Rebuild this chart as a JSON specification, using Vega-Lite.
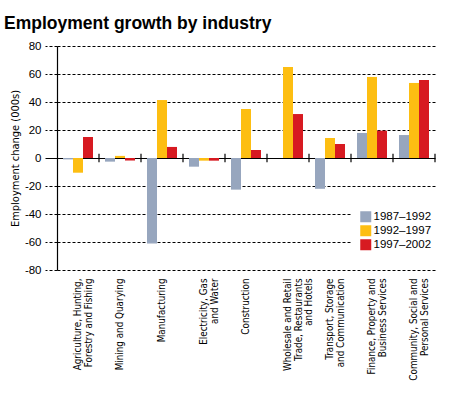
{
  "$schema": "https://vega.github.io/schema/vega-lite/v6.json",
  "width": 378,
  "height": 224,
  "autosize": {"type": "none"},
  "padding": {"left": 57, "top": 46, "right": 17, "bottom": 128},
  "background": "white",
  "title": {
    "text": "Employment growth by industry",
    "anchor": "start",
    "frame": "group",
    "dx": -53,
    "offset": -6,
    "baseline": "alphabetic",
    "font": "Liberation Sans",
    "fontSize": 17.5,
    "fontWeight": "bold",
    "color": "black"
  },
  "config": {
    "view": {"stroke": null}
  },
  "data": {
    "values": [
      {"industry": "Agriculture, Hunting,|Forestry and Fishing", "period": "1987–1992", "change": -1},
      {"industry": "Agriculture, Hunting,|Forestry and Fishing", "period": "1992–1997", "change": -10.5},
      {"industry": "Agriculture, Hunting,|Forestry and Fishing", "period": "1997–2002", "change": 15},
      {"industry": "Mining and Quarying", "period": "1987–1992", "change": -2.6},
      {"industry": "Mining and Quarying", "period": "1992–1997", "change": 1.5},
      {"industry": "Mining and Quarying", "period": "1997–2002", "change": -1.8},
      {"industry": "Manufacturing", "period": "1987–1992", "change": -61},
      {"industry": "Manufacturing", "period": "1992–1997", "change": 41.4},
      {"industry": "Manufacturing", "period": "1997–2002", "change": 7.9},
      {"industry": "Electricity, Gas|and Water", "period": "1987–1992", "change": -6.2},
      {"industry": "Electricity, Gas|and Water", "period": "1992–1997", "change": -1.9},
      {"industry": "Electricity, Gas|and Water", "period": "1997–2002", "change": -1.9},
      {"industry": "Construction", "period": "1987–1992", "change": -22.6},
      {"industry": "Construction", "period": "1992–1997", "change": 35},
      {"industry": "Construction", "period": "1997–2002", "change": 5.7},
      {"industry": "Wholesale and Retail|Trade, Restaurants|and Hotels", "period": "1987–1992", "change": 0},
      {"industry": "Wholesale and Retail|Trade, Restaurants|and Hotels", "period": "1992–1997", "change": 65},
      {"industry": "Wholesale and Retail|Trade, Restaurants|and Hotels", "period": "1997–2002", "change": 31.4},
      {"industry": "Transport, Storage|and Communication", "period": "1987–1992", "change": -22},
      {"industry": "Transport, Storage|and Communication", "period": "1992–1997", "change": 14.3},
      {"industry": "Transport, Storage|and Communication", "period": "1997–2002", "change": 10},
      {"industry": "Finance, Property and|Business Services", "period": "1987–1992", "change": 17.9},
      {"industry": "Finance, Property and|Business Services", "period": "1992–1997", "change": 57.9},
      {"industry": "Finance, Property and|Business Services", "period": "1997–2002", "change": 19.5},
      {"industry": "Community, Social and|Personal Services", "period": "1987–1992", "change": 16.4},
      {"industry": "Community, Social and|Personal Services", "period": "1992–1997", "change": 53.6},
      {"industry": "Community, Social and|Personal Services", "period": "1997–2002", "change": 55.7}
    ]
  },
  "layer": [
    {
      "mark": {"type": "bar"},
      "encoding": {
        "x": {
          "field": "industry",
          "type": "nominal",
          "sort": null,
          "scale": {"paddingInner": 0, "paddingOuter": 0},
          "axis": {
            "orient": "bottom",
            "title": null,
            "domain": false,
            "ticks": false,
            "grid": false,
            "labelAngle": -90,
            "labelAlign": "right",
            "labelBaseline": "middle",
            "labelPadding": 8,
            "labelFont": "DejaVu Sans Condensed",
            "labelFontSize": 9.8,
            "labelLineHeight": 10.5,
            "labelColor": "black",
            "labelOverlap": false,
            "labelBound": false,
            "labelLimit": 0,
            "labelExpr": "split(datum.label, '|')"
          }
        },
        "xOffset": {
          "field": "period",
          "type": "nominal",
          "scale": {"paddingInner": 0, "paddingOuter": 0.6}
        },
        "y": {
          "field": "change",
          "type": "quantitative",
          "scale": {"domain": [-80, 80], "nice": false},
          "axis": {
            "values": [-80, -60, -40, -20, 0, 20, 40, 60, 80],
            "labelOverlap": false,
            "title": "Employment change (000s)",
            "titleFont": "DejaVu Sans Condensed",
            "titleFontSize": 11,
            "titleFontWeight": "normal",
            "titleColor": "black",
            "titlePadding": 4,
            "labelFont": "Liberation Sans",
            "labelFontSize": 11.5,
            "labelColor": "black",
            "labelPadding": 4,
            "labelExpr": "toString(datum.value)",
            "domain": true,
            "domainColor": "black",
            "domainWidth": 1.2,
            "tickSize": 12,
            "tickColor": "black",
            "tickDash": {"condition": {"test": "datum.value === 0", "value": []}, "value": [3, 2]},
            "grid": true,
            "gridColor": "black",
            "gridOpacity": 1,
            "gridDash": {"condition": {"test": "datum.value === 0", "value": []}, "value": [3, 2]}
          }
        },
        "color": {
          "field": "period",
          "type": "nominal",
          "scale": {"range": ["#97a6be", "#fdbe12", "#d71a21"]},
          "legend": {
            "title": null,
            "orient": "none",
            "legendX": 294,
            "legendY": 156,
            "padding": 9,
            "fillColor": "white",
            "symbolType": "square",
            "symbolSize": 121,
            "symbolStrokeWidth": 0,
            "symbolOpacity": 1,
            "labelFont": "Liberation Sans",
            "labelFontSize": 11.5,
            "labelColor": "black",
            "labelOffset": 2,
            "rowPadding": 1
          }
        }
      }
    },
    {
      "transform": [{"filter": "datum.period === '1987–1992'"}],
      "mark": {"type": "rule", "color": "black", "strokeWidth": 1.2},
      "encoding": {
        "x": {"field": "industry", "type": "nominal", "sort": null, "bandPosition": 1},
        "y": {
          "datum": 3,
          "type": "quantitative",
          "scale": {"domain": [-80, 80], "nice": false},
          "axis": {
            "values": [-80, -60, -40, -20, 0, 20, 40, 60, 80],
            "labelOverlap": false,
            "title": "Employment change (000s)"
          }
        },
        "y2": {"datum": -3}
      }
    }
  ]
}
